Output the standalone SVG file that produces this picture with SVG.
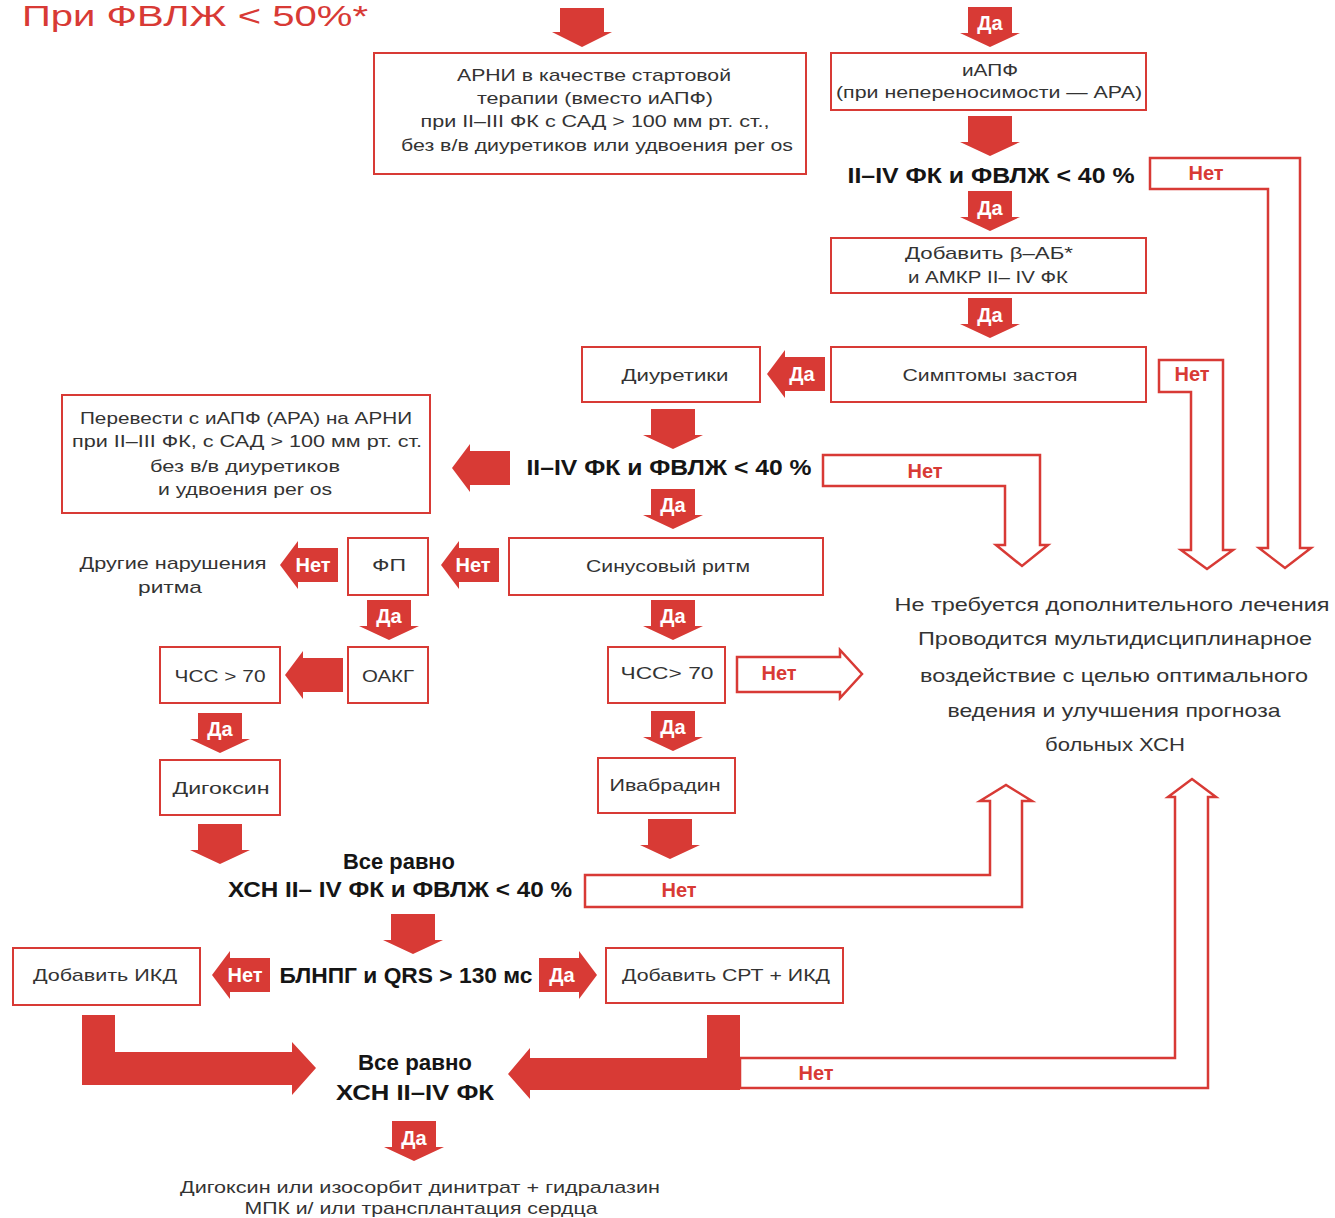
<svg xmlns="http://www.w3.org/2000/svg" xmlns:xlink="http://www.w3.org/1999/xlink" width="1335" height="1218" viewBox="0 0 1335 1218">
<style>
.box{fill:#fff;stroke:#d83a35;stroke-width:2}
.t{font-family:"Liberation Sans",Arial,sans-serif;font-size:17px;fill:#333;text-anchor:middle}
.big{font-family:"Liberation Sans",Arial,sans-serif;font-size:19px;fill:#333;text-anchor:middle}
.h{font-family:"Liberation Sans",Arial,sans-serif;font-size:22px;font-weight:bold;fill:#151515;text-anchor:middle}
.fa{fill:#d83a35}
.wl{font-family:"Liberation Sans",Arial,sans-serif;font-size:20px;font-weight:bold;fill:#fff;text-anchor:middle}
.out{fill:#fff;stroke:#d83a35;stroke-width:2.5;stroke-linejoin:miter}
.rl{font-family:"Liberation Sans",Arial,sans-serif;font-size:20px;font-weight:bold;fill:#d83a35;text-anchor:middle}
</style>
<defs>
<path id="dn" d="M-22,0 H22 V26 H30 L0,40 L-30,26 H-22 Z"/>
<path id="lf" d="M0,0 L18,-24 V-17 H58 V17 H18 V24 Z"/>
<path id="rt" d="M0,0 L-18,-24 V-17 H-58 V17 H-18 V24 Z"/>
</defs>
<rect width="1335" height="1218" fill="#fff"/>

<text x="22" y="26" font-family="'Liberation Sans',Arial,sans-serif" font-size="30" fill="#d83a35" textLength="346" lengthAdjust="spacingAndGlyphs">При ФВЛЖ &lt; 50%*</text>

<g id="connectors">
  <path class="out" d="M1150,158 H1300 V548 H1311 L1285,568 L1259,548 H1268 V189 H1150 Z"/>
  <text class="rl" x="1206" y="180">Нет</text>
  <path class="out" d="M1159,360 H1223 V550 H1233 L1207,569 L1181,550 H1191 V392 H1159 Z"/>
  <text class="rl" x="1192" y="381">Нет</text>
  <path class="out" d="M823,455 H1040 V545 H1048 L1022,566 L996,545 H1005 V486 H823 Z"/>
  <text class="rl" x="925" y="478">Нет</text>
  <path class="out" d="M737,657 H840 V650 L862,674 L840,698 V692 H737 Z"/>
  <text class="rl" x="779" y="680">Нет</text>
  <path class="out" d="M585,875 H990 V801 H980 L1006,785 L1032,801 H1022 V907 H585 Z"/>
  <text class="rl" x="679" y="897">Нет</text>
  <path class="out" d="M740,1058 H1175 V797 H1168 L1192,779 L1216,797 H1208 V1088 H740 Z"/>
  <text class="rl" x="816" y="1080">Нет</text>

  <path class="fa" d="M82,1015 H115 V1052 H292 V1042 L316,1068 L292,1095 V1085 H82 Z"/>
  <path class="fa" d="M707,1015 H740 V1090 H530 V1099 L508,1074 L530,1048 V1058 H707 Z"/>

  <path class="fa" d="M560,8 H604 V32 H612 L582,47 L552,32 H560 Z"/>
  <use href="#dn" class="fa" x="990" y="7"/><text class="wl" x="990" y="30">Да</text>
  <use href="#dn" class="fa" x="990" y="116"/>
  <use href="#dn" class="fa" x="990" y="191"/><text class="wl" x="990" y="215">Да</text>
  <use href="#dn" class="fa" x="990" y="298"/><text class="wl" x="990" y="322">Да</text>
  <use href="#dn" class="fa" x="673" y="409"/>
  <use href="#dn" class="fa" x="673" y="489"/><text class="wl" x="673" y="512">Да</text>
  <use href="#dn" class="fa" x="389" y="600"/><text class="wl" x="389" y="623">Да</text>
  <use href="#dn" class="fa" x="673" y="600"/><text class="wl" x="673" y="623">Да</text>
  <use href="#dn" class="fa" x="220" y="713"/><text class="wl" x="220" y="736">Да</text>
  <use href="#dn" class="fa" x="673" y="711"/><text class="wl" x="673" y="734">Да</text>
  <use href="#dn" class="fa" x="220" y="824"/>
  <use href="#dn" class="fa" x="670" y="819"/>
  <use href="#dn" class="fa" x="413" y="914"/>
  <use href="#dn" class="fa" x="414" y="1121"/><text class="wl" x="414" y="1145">Да</text>

  <use href="#lf" class="fa" x="767" y="374"/><text class="wl" x="802" y="381">Да</text>
  <use href="#lf" class="fa" x="452" y="468"/>
  <use href="#lf" class="fa" x="441" y="565"/><text class="wl" x="473" y="572">Нет</text>
  <use href="#lf" class="fa" x="280" y="565"/><text class="wl" x="313" y="572">Нет</text>
  <use href="#lf" class="fa" x="285" y="675"/>
  <use href="#lf" class="fa" x="212" y="975"/><text class="wl" x="245" y="982">Нет</text>
  <use href="#rt" class="fa" x="597" y="975"/><text class="wl" x="562" y="982">Да</text>
</g>

<g id="n-arni">
  <rect class="box" x="374" y="53" width="432" height="121"/>
  <text class="t" x="594" y="81" textLength="274" lengthAdjust="spacingAndGlyphs">АРНИ в качестве стартовой</text>
  <text class="t" x="595" y="104" textLength="236" lengthAdjust="spacingAndGlyphs">терапии (вместо иАПФ)</text>
  <text class="t" x="595" y="127" textLength="349" lengthAdjust="spacingAndGlyphs">при II–III ФК с САД &gt; 100 мм рт. ст.,</text>
  <text class="t" x="597" y="151" textLength="392" lengthAdjust="spacingAndGlyphs">без в/в диуретиков или удвоения per os</text>
</g>
<g id="n-iapf">
  <rect class="box" x="831" y="53" width="315" height="57"/>
  <text class="t" x="990" y="76" textLength="56" lengthAdjust="spacingAndGlyphs">иАПФ</text>
  <text class="t" x="989" y="98" textLength="306" lengthAdjust="spacingAndGlyphs">(при непереносимости — АРА)</text>
</g>
<g id="n-q1">
  <text class="h" x="991" y="183" textLength="287" lengthAdjust="spacingAndGlyphs">II–IV ФК и ФВЛЖ &lt; 40 %</text>
</g>
<g id="n-ba">
  <rect class="box" x="831" y="238" width="315" height="55"/>
  <text class="t" x="989" y="259" textLength="168" lengthAdjust="spacingAndGlyphs">Добавить β–АБ*</text>
  <text class="t" x="988" y="283" textLength="160" lengthAdjust="spacingAndGlyphs">и АМКР II– IV ФК</text>
</g>
<g id="n-sympt">
  <rect class="box" x="831" y="347" width="315" height="55"/>
  <text class="t" x="990" y="381" textLength="175" lengthAdjust="spacingAndGlyphs">Симптомы застоя</text>
</g>
<g id="n-diur">
  <rect class="box" x="582" y="347" width="178" height="55"/>
  <text class="t" x="675" y="381" textLength="107" lengthAdjust="spacingAndGlyphs">Диуретики</text>
</g>
<g id="n-q2">
  <text class="h" x="669" y="475" textLength="285" lengthAdjust="spacingAndGlyphs">II–IV ФК и ФВЛЖ &lt; 40 %</text>
</g>
<g id="n-switch">
  <rect class="box" x="62" y="395" width="368" height="118"/>
  <text class="t" x="246" y="424" textLength="332" lengthAdjust="spacingAndGlyphs">Перевести с иАПФ (АРА) на АРНИ</text>
  <text class="t" x="247" y="447" textLength="350" lengthAdjust="spacingAndGlyphs">при II–III ФК, с САД  &gt; 100 мм рт. ст.</text>
  <text class="t" x="245" y="472" textLength="190" lengthAdjust="spacingAndGlyphs">без в/в диуретиков</text>
  <text class="t" x="245" y="495" textLength="174" lengthAdjust="spacingAndGlyphs">и удвоения per os</text>
</g>
<g id="n-sinus">
  <rect class="box" x="509" y="538" width="314" height="57"/>
  <text class="t" x="668" y="572" textLength="164" lengthAdjust="spacingAndGlyphs">Синусовый ритм</text>
</g>
<g id="n-fp">
  <rect class="box" x="348" y="538" width="80" height="57"/>
  <text class="t" x="389" y="571" textLength="34" lengthAdjust="spacingAndGlyphs">ФП</text>
</g>
<g id="n-other">
  <text class="t" x="173" y="569" textLength="187" lengthAdjust="spacingAndGlyphs">Другие нарушения</text>
  <text class="t" x="170" y="593" textLength="64" lengthAdjust="spacingAndGlyphs">ритма</text>
</g>
<g id="n-oakg">
  <rect class="box" x="348" y="647" width="80" height="56"/>
  <text class="t" x="388" y="682" textLength="52" lengthAdjust="spacingAndGlyphs">ОАКГ</text>
</g>
<g id="n-hr1">
  <rect class="box" x="160" y="647" width="120" height="56"/>
  <text class="t" x="220" y="682" textLength="91" lengthAdjust="spacingAndGlyphs">ЧСС &gt; 70</text>
</g>
<g id="n-digox">
  <rect class="box" x="160" y="760" width="120" height="55"/>
  <text class="t" x="221" y="794" textLength="97" lengthAdjust="spacingAndGlyphs">Дигоксин</text>
</g>
<g id="n-hr2">
  <rect class="box" x="608" y="647" width="117" height="56"/>
  <text class="t" x="667" y="679" textLength="93" lengthAdjust="spacingAndGlyphs">ЧСС&gt; 70</text>
</g>
<g id="n-ivab">
  <rect class="box" x="598" y="758" width="137" height="55"/>
  <text class="t" x="665" y="791" textLength="111" lengthAdjust="spacingAndGlyphs">Ивабрадин</text>
</g>
<g id="n-none">
  <text class="big" x="1112" y="611" textLength="435" lengthAdjust="spacingAndGlyphs">Не требуется дополнительного лечения</text>
  <text class="big" x="1115" y="645" textLength="394" lengthAdjust="spacingAndGlyphs">Проводится мультидисциплинарное</text>
  <text class="big" x="1114" y="682" textLength="388" lengthAdjust="spacingAndGlyphs">воздействие с целью оптимального</text>
  <text class="big" x="1114" y="717" textLength="333" lengthAdjust="spacingAndGlyphs">ведения и улучшения прогноза</text>
  <text class="big" x="1115" y="751" textLength="140" lengthAdjust="spacingAndGlyphs">больных ХСН</text>
</g>
<g id="n-q3">
  <text class="h" x="399" y="869" font-size="20" textLength="112" lengthAdjust="spacingAndGlyphs">Все равно</text>
  <text class="h" x="400" y="897" textLength="344" lengthAdjust="spacingAndGlyphs">ХСН II– IV ФК и ФВЛЖ &lt; 40 %</text>
</g>
<g id="n-q4">
  <text class="h" x="406" y="983" textLength="253" lengthAdjust="spacingAndGlyphs">БЛНПГ и QRS &gt; 130 мс</text>
</g>
<g id="n-icd">
  <rect class="box" x="13" y="948" width="187" height="57"/>
  <text class="t" x="105" y="981" textLength="144" lengthAdjust="spacingAndGlyphs">Добавить ИКД</text>
</g>
<g id="n-crt">
  <rect class="box" x="606" y="948" width="237" height="55"/>
  <text class="t" x="726" y="981" textLength="208" lengthAdjust="spacingAndGlyphs">Добавить СРТ + ИКД</text>
</g>
<g id="n-q5">
  <text class="h" x="415" y="1070" font-size="20" textLength="114" lengthAdjust="spacingAndGlyphs">Все равно</text>
  <text class="h" x="415" y="1100" textLength="158" lengthAdjust="spacingAndGlyphs">ХСН II–IV ФК</text>
</g>
<g id="n-final">
  <text class="t" x="420" y="1193" textLength="480" lengthAdjust="spacingAndGlyphs">Дигоксин или изосорбит динитрат + гидралазин</text>
  <text class="t" x="421" y="1214" textLength="353" lengthAdjust="spacingAndGlyphs">МПК и/ или трансплантация сердца</text>
</g>
</svg>
